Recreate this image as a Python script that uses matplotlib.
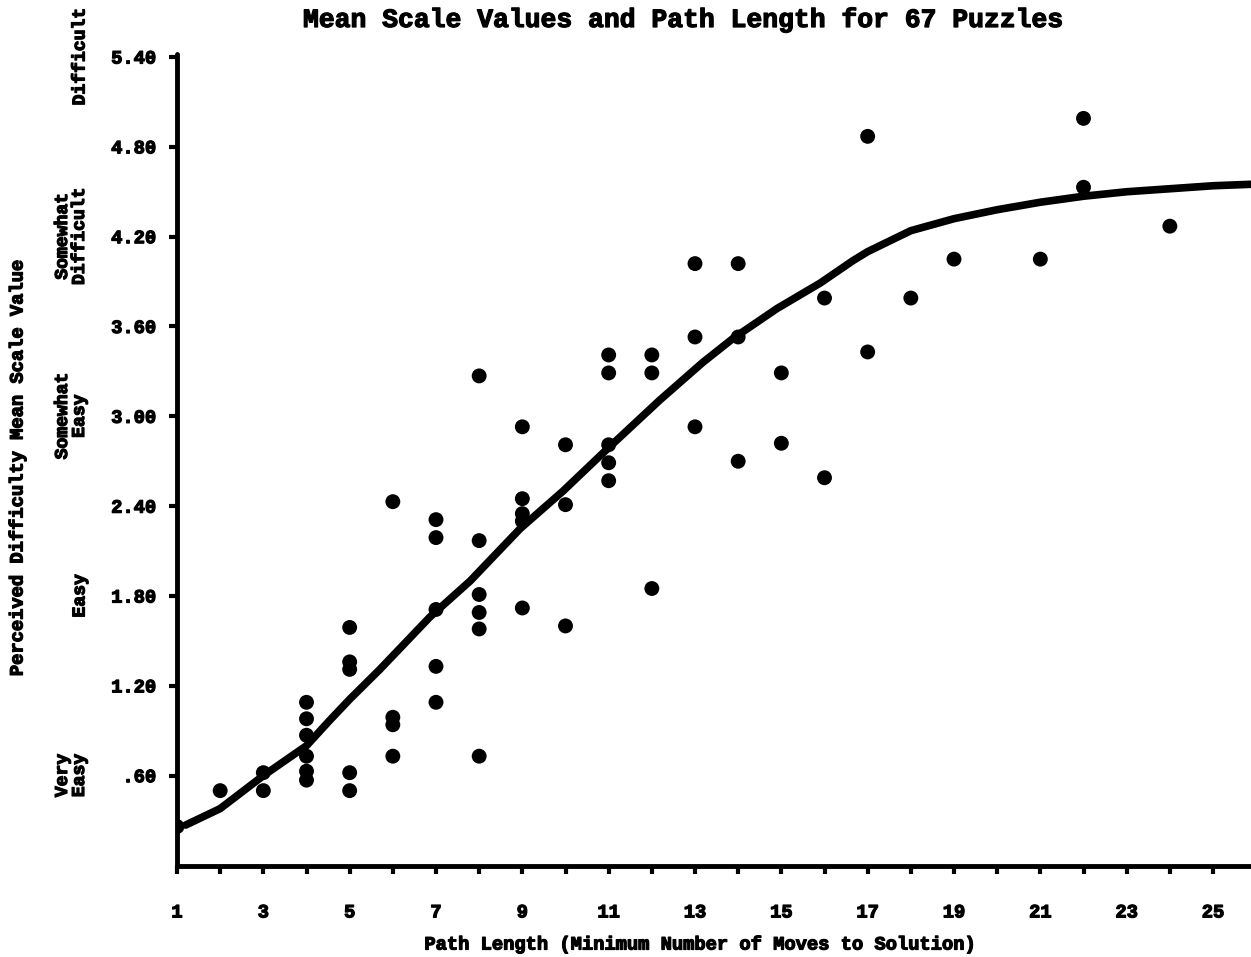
#!/usr/bin/env python3
"""Mean scale values vs path length for 67 puzzles (scanned report figure)."""
import matplotlib
matplotlib.use("Agg")
import matplotlib.pyplot as plt
import matplotlib.transforms as mtrans
import matplotlib.patheffects as pe

# puzzle data: path length and perceived difficulty (mean scale value)
path_len = [1, 2, 3, 3,
            4, 4, 4, 4, 4, 4,
            5, 5, 5, 5, 5,
            6, 6, 6, 6,
            7, 7, 7, 7, 7,
            8, 8, 8, 8, 8, 8,
            9, 9, 9, 9, 9,
            10, 10, 10,
            11, 11, 11, 11, 11,
            12, 12, 12,
            13, 13, 13,
            14, 14, 14,
            15, 15,
            16, 16,
            17, 17,
            18, 19, 21, 22, 22, 24]
mean_scale = [0.26, 0.50, 0.62, 0.50,
              1.09, 0.98, 0.87, 0.73, 0.63, 0.57,
              1.59, 1.36, 1.31, 0.62, 0.50,
              2.43, 0.99, 0.94, 0.73,
              2.31, 2.19, 1.71, 1.33, 1.09,
              3.27, 2.17, 1.81, 1.69, 1.58, 0.73,
              2.93, 2.45, 2.35, 2.30, 1.72,
              2.81, 2.41, 1.60,
              3.41, 3.29, 2.81, 2.69, 2.57,
              3.41, 3.29, 1.85,
              4.02, 3.53, 2.93,
              4.02, 3.53, 2.70,
              3.29, 2.82,
              3.79, 2.59,
              4.87, 3.43,
              3.79, 4.05, 4.05, 4.99, 4.53, 4.27]

# fitted curve
curve_x = [1.2, 2, 3, 4, 4.54, 5.0, 5.7, 6.86, 7.79, 8.95, 9.94, 10.96,
           12.19, 13.18, 13.88, 14.9, 15.9, 16.66, 17, 18, 19, 20, 21, 22,
           23, 24, 25, 25.9]
curve_y = [0.27, 0.38, 0.60, 0.80, 0.97, 1.11, 1.31, 1.66, 1.90, 2.25, 2.50,
           2.78, 3.11, 3.36, 3.52, 3.72, 3.89, 4.04, 4.10, 4.24, 4.32, 4.38,
           4.43, 4.47, 4.50, 4.52, 4.54, 4.55]

yticks = [0.6, 1.2, 1.8, 2.4, 3.0, 3.6, 4.2, 4.8, 5.4]
ytick_labels = [".60", "1.20", "1.80", "2.40", "3.00", "3.60", "4.20", "4.80", "5.40"]
categories = ["Very\nEasy", "Easy", "Somewhat\nEasy", "Somewhat\nDifficult", "Difficult"]
category_y = [0.6, 1.8, 3.0, 4.2, 5.4]

plt.rcParams["font.family"] = ["Liberation Mono", "DejaVu Sans Mono"]
plt.rcParams["font.weight"] = "bold"
HEAVY = [pe.withStroke(linewidth=0.9, foreground="black")]

W, H = 1251, 957
fig = plt.figure(figsize=(W / 100, H / 100), dpi=100)
ax = fig.add_axes([177 / W, 1 - 865.5 / H, (W - 177) / W, (865.5 - 54) / H])

ax.plot(curve_x, curve_y, color="black", lw=5.5, solid_capstyle="round",
        solid_joinstyle="round")
ax.scatter(path_len, mean_scale, s=115, color="black", zorder=3, edgecolors="none")

ax.set_xlim(1, 25.88)
ax.set_ylim(0, 5.42)
for s in ["top", "right"]:
    ax.spines[s].set_visible(False)
for s in ["left", "bottom"]:
    ax.spines[s].set_linewidth(3.5)
    ax.spines[s].set_capstyle("round")

ax.set_yticks(yticks)
ax.set_yticklabels(ytick_labels)
ax.set_xticks(range(1, 26))
ax.set_xticklabels([str(i) if i % 2 else "" for i in range(1, 26)])
ax.tick_params(axis="y", length=6, width=3, pad=9, labelsize=13.5)
ax.tick_params(axis="x", length=6, width=3, pad=22, labelsize=13.5)
for lab in ax.get_xticklabels() + ax.get_yticklabels():
    lab.set_path_effects(HEAVY)

# category labels sit at fixed pixel columns left of the axis
cat_tr = mtrans.blended_transform_factory(mtrans.IdentityTransform(), ax.transData)
for lab, yv in zip(categories, category_y):
    x_px = 177 - (97 if "\n" not in lab else 106)
    ax.text(x_px, yv, lab, transform=cat_tr, rotation=90, ha="center", va="center",
            fontsize=13, fontweight="bold", linespacing=1.0, path_effects=HEAVY,
            clip_on=False)

fig.text(18 / W, 1 - 468 / H, "Perceived Difficulty Mean Scale Value", rotation=90,
         ha="center", va="center", fontsize=13.5, fontweight="bold", path_effects=HEAVY)
fig.text(700 / W, 1 - 945 / H, "Path Length (Minimum Number of Moves to Solution)",
         ha="center", va="center", fontsize=13.5, fontweight="bold", path_effects=HEAVY)
fig.text(684 / W, 1 - 20 / H, "Mean Scale Values and Path Length for 67 Puzzles",
         ha="center", va="center", fontsize=19, fontweight="bold", path_effects=HEAVY)

fig.savefig("out.png", dpi=100)
